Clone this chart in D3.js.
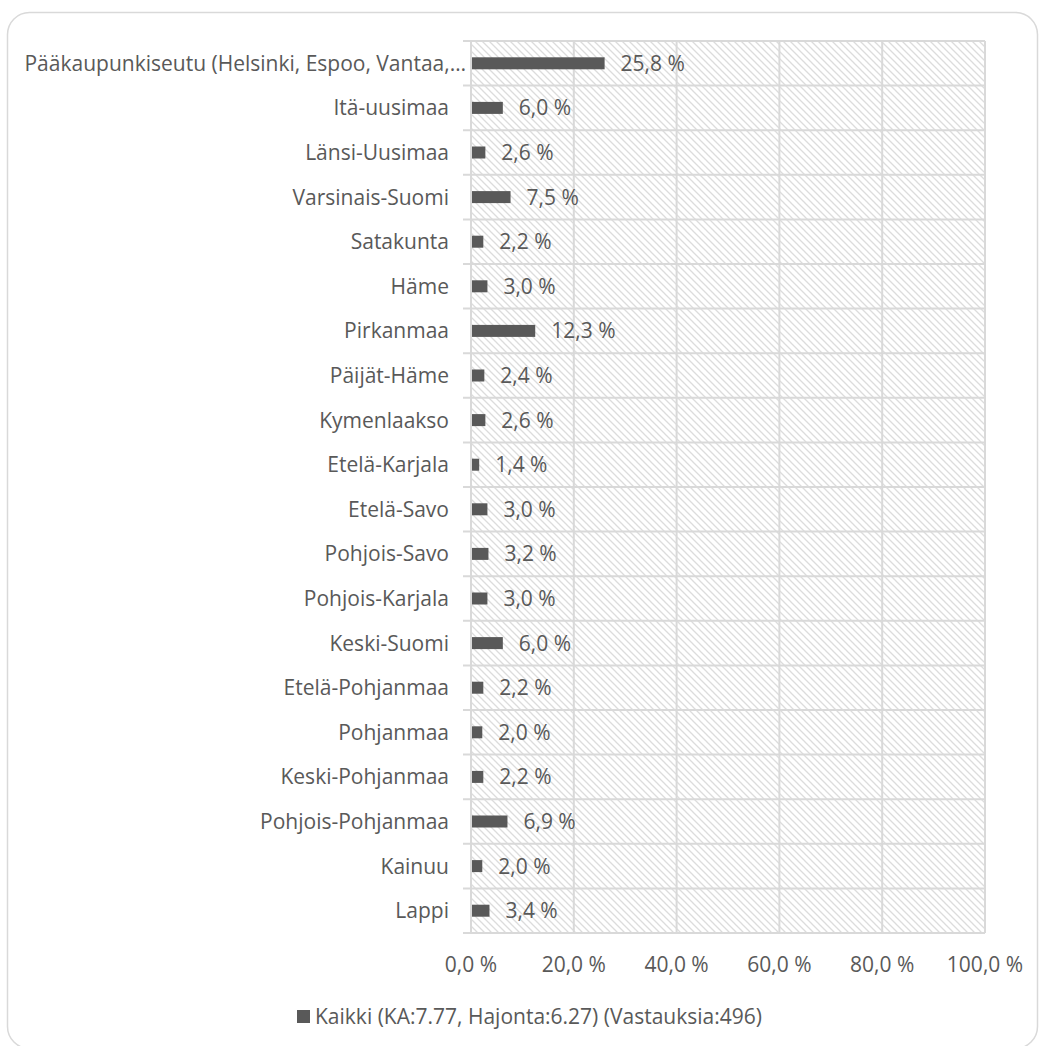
<!DOCTYPE html>
<html>
<head>
<meta charset="utf-8">
<script src="https://cdn.jsdelivr.net/npm/d3@7"></script>
<style>
  body { margin: 0; background: #fff; }
  text { font-family: 'Open Sans', sans-serif; fill: #595959; }
</style>
</head>
<body>
<div id="chart"></div>
<script>
// Data
const regions = [
  'Pääkaupunkiseutu (Helsinki, Espoo, Vantaa,…', 'Itä-uusimaa', 'Länsi-Uusimaa',
  'Varsinais-Suomi', 'Satakunta', 'Häme', 'Pirkanmaa', 'Päijät-Häme', 'Kymenlaakso',
  'Etelä-Karjala', 'Etelä-Savo', 'Pohjois-Savo', 'Pohjois-Karjala', 'Keski-Suomi',
  'Etelä-Pohjanmaa', 'Pohjanmaa', 'Keski-Pohjanmaa', 'Pohjois-Pohjanmaa', 'Kainuu', 'Lappi'
];
const shares = [25.8, 6.0, 2.6, 7.5, 2.2, 3.0, 12.3, 2.4, 2.6, 1.4, 3.0, 3.2, 3.0, 6.0, 2.2, 2.0, 2.2, 6.9, 2.0, 3.4];
const xTicks = [0, 20, 40, 60, 80, 100];
const seriesName = 'Kaikki (KA:7.77, Hajonta:6.27) (Vastauksia:496)';

const width = 1040;
const height = 1046;
const plot = { left: 471, right: 985, top: 41, bottom: 933 };
const fontSize = '21px';
const fmt = v => d3.format('.1f')(v).replace('.', ',') + ' %';

const svg = d3.select('#chart').append('svg')
  .attr('width', width)
  .attr('height', height);

// Hatched background pattern
const pattern = svg.append('defs').append('pattern')
  .attr('id', 'hatch')
  .attr('patternUnits', 'userSpaceOnUse')
  .attr('width', 7)
  .attr('height', 7);
pattern.append('rect')
  .attr('width', 7)
  .attr('height', 7)
  .attr('fill', '#fff');
pattern.append('path')
  .attr('d', 'M-1,-1 L8,8 M-1,6 L1,8 M6,-1 L8,1')
  .attr('stroke', '#dcdcdc')
  .attr('stroke-width', 1.3);

// Chart frame
svg.append('rect')
  .attr('x', 7.5)
  .attr('y', 12.5)
  .attr('width', 1030)
  .attr('height', 1036)
  .attr('rx', 22)
  .attr('fill', 'none')
  .attr('stroke', '#d9d9d9')
  .attr('stroke-width', 1.5);

const x = d3.scaleLinear()
  .domain([0, 100])
  .range([plot.left, plot.right]);
const y = d3.scaleBand()
  .domain(regions)
  .range([plot.top, plot.bottom]);

svg.append('rect')
  .attr('x', plot.left)
  .attr('y', plot.top)
  .attr('width', plot.right - plot.left)
  .attr('height', plot.bottom - plot.top)
  .attr('fill', 'url(#hatch)');

// Grid lines
const grid = svg.append('g').attr('class', 'grid');
grid.selectAll('line.v')
  .data(xTicks)
  .join('line')
  .attr('class', 'v')
  .attr('x1', d => x(d))
  .attr('x2', d => x(d))
  .attr('y1', plot.top)
  .attr('y2', plot.bottom)
  .attr('stroke', '#d9d9d9')
  .attr('stroke-width', 2);
const bounds = regions.map(r => y(r)).concat([plot.bottom]);
grid.selectAll('line.h')
  .data(bounds)
  .join('line')
  .attr('class', 'h')
  .attr('x1', plot.left - 8)
  .attr('x2', plot.right)
  .attr('y1', d => d)
  .attr('y2', d => d)
  .attr('stroke', '#d9d9d9')
  .attr('stroke-width', 2);

// Bars
const barH = 12;
svg.append('g').selectAll('rect')
  .data(shares)
  .join('rect')
  .attr('x', x(0) + 1)
  .attr('y', (d, i) => y(regions[i]) + y.bandwidth() / 2 - barH / 2)
  .attr('width', d => x(d) - x(0))
  .attr('height', barH)
  .attr('fill', '#595959');

// Value labels
svg.append('g').selectAll('text')
  .data(shares)
  .join('text')
  .attr('x', d => x(d) + 17)
  .attr('y', (d, i) => y(regions[i]) + y.bandwidth() / 2)
  .attr('dy', '0.36em')
  .style('font-size', fontSize)
  .text(d => fmt(d));

// Category labels (the truncated one runs up to the tick marks)
svg.append('g').selectAll('text')
  .data(regions)
  .join('text')
  .attr('x', d => d.endsWith('…') ? plot.left - 5 : plot.left - 22)
  .attr('y', d => y(d) + y.bandwidth() / 2)
  .attr('dy', '0.36em')
  .attr('text-anchor', 'end')
  .style('font-size', fontSize)
  .text(d => d);

// X axis labels
svg.append('g').selectAll('text')
  .data(xTicks)
  .join('text')
  .attr('x', d => x(d))
  .attr('y', 964)
  .attr('dy', '0.36em')
  .attr('text-anchor', 'middle')
  .style('font-size', fontSize)
  .text(d => fmt(d));

// Legend
const legend = svg.append('g').attr('class', 'legend');
legend.append('rect')
  .attr('x', 297)
  .attr('y', 1010)
  .attr('width', 13)
  .attr('height', 13)
  .attr('fill', '#595959');
legend.append('text')
  .attr('x', 315)
  .attr('y', 1016)
  .attr('dy', '0.36em')
  .style('font-size', fontSize)
  .text(seriesName);
</script>
</body>
</html>
